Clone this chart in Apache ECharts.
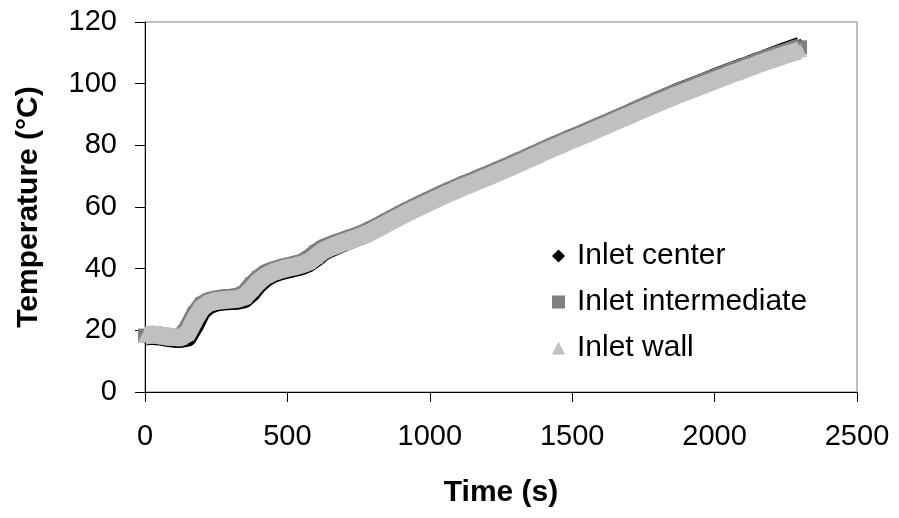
<!DOCTYPE html>
<html>
<head>
<meta charset="utf-8">
<script src="https://cdn.jsdelivr.net/npm/echarts@6/dist/echarts.min.js"></script>
<style>
  html, body { margin: 0; padding: 0; background: #fff; }
  #chart { width: 899px; height: 518px; }
</style>
</head>
<body>
<div id="chart"></div>
<script>
// Sampling times (s)
const times = [
  0, 25, 50, 75, 100, 125, 150, 175, 200, 225, 250, 275, 300, 325, 350, 375,
  400, 425, 450, 475, 500, 525, 550, 575, 600, 625, 650, 675, 700, 725, 750, 775,
  800, 825, 850, 875, 900, 925, 950, 975, 1000, 1025, 1050, 1075, 1100, 1125, 1150, 1175,
  1200, 1225, 1250, 1275, 1300, 1325, 1350, 1375, 1400, 1425, 1450, 1475, 1500, 1525, 1550, 1575,
  1600, 1625, 1650, 1675, 1700, 1725, 1750, 1775, 1800, 1825, 1850, 1875, 1900, 1925, 1950, 1975,
  2000, 2025, 2050, 2075, 2100, 2125, 2150, 2175, 2200, 2225, 2250, 2275, 2300
];

// Temperatures (°C) at the inlet centre
const inletCenter = [
  18.0, 18.2, 18.0, 17.6, 17.3, 17.2, 17.6, 21.5, 26.2, 28.1, 29.0, 29.3, 29.5, 29.6, 30.1, 32.2,
  35.0, 37.0, 38.3, 39.1, 39.7, 40.2, 40.8, 41.8, 43.4, 45.3, 46.5, 47.5, 48.5, 49.4, 50.3, 51.2,
  52.4, 53.6, 54.9, 56.2, 57.4, 58.6, 59.7, 60.8, 61.9, 63.0, 64.1, 65.1, 66.1, 67.1, 68.0, 69.0,
  69.9, 70.9, 71.9, 72.9, 73.9, 74.9, 76.0, 77.0, 78.1, 79.1, 80.2, 81.2, 82.2, 83.1, 84.1, 85.1,
  86.1, 87.1, 88.2, 89.2, 90.3, 91.4, 92.4, 93.4, 94.5, 95.5, 96.5, 97.5, 98.4, 99.3, 100.2, 101.1,
  102.0, 102.9, 103.8, 104.6, 105.5, 106.3, 107.2, 108.0, 108.9, 109.8, 110.7, 111.5, 112.3
];

// Temperatures (°C) at the intermediate radial position
const inletIntermediate = [
  18.3, 18.6, 18.4, 18.0, 17.8, 17.9, 20.8, 25.4, 28.4, 29.6, 30.1, 30.4, 30.6, 30.9, 32.0, 34.8,
  37.0, 38.6, 39.5, 40.2, 40.8, 41.3, 42.0, 43.3, 45.2, 46.7, 47.6, 48.5, 49.3, 50.1, 50.9, 51.9,
  53.0, 54.2, 55.5, 56.7, 57.9, 59.1, 60.2, 61.3, 62.4, 63.5, 64.6, 65.6, 66.6, 67.6, 68.5, 69.5,
  70.4, 71.4, 72.4, 73.4, 74.4, 75.4, 76.5, 77.5, 78.6, 79.6, 80.6, 81.6, 82.6, 83.5, 84.5, 85.5,
  86.5, 87.5, 88.5, 89.5, 90.5, 91.6, 92.6, 93.6, 94.6, 95.5, 96.5, 97.4, 98.3, 99.2, 100.1, 101.0,
  101.9, 102.8, 103.7, 104.5, 105.4, 106.2, 107.1, 107.9, 108.7, 109.5, 110.3, 111.1, 111.8
];

// Temperatures (°C) next to the inlet wall
const inletWall = [
  18.3, 18.6, 18.4, 18.0, 17.8, 17.7, 19.0, 23.5, 27.3, 28.9, 29.5, 29.8, 30.0, 30.2, 30.9, 33.3,
  35.9, 37.7, 38.8, 39.6, 40.2, 40.7, 41.3, 42.2, 43.9, 45.7, 46.8, 47.7, 48.6, 49.4, 50.2, 51.1,
  52.2, 53.4, 54.7, 55.9, 57.1, 58.3, 59.4, 60.5, 61.6, 62.7, 63.8, 64.8, 65.8, 66.8, 67.7, 68.7,
  69.6, 70.6, 71.6, 72.6, 73.6, 74.6, 75.7, 76.7, 77.8, 78.8, 79.8, 80.8, 81.8, 82.7, 83.7, 84.7,
  85.7, 86.7, 87.7, 88.7, 89.7, 90.7, 91.7, 92.7, 93.7, 94.6, 95.6, 96.5, 97.4, 98.3, 99.2, 100.1,
  101.0, 101.9, 102.8, 103.6, 104.5, 105.3, 106.2, 107.0, 107.8, 108.6, 109.4, 110.1, 110.8
];

const seriesNames = ['Inlet center', 'Inlet intermediate', 'Inlet wall'];
const seriesColors = ['#000000', '#808080', '#c0c0c0'];
const seriesSymbols = ['diamond', 'rect', 'triangle'];
const seriesValues = [inletCenter, inletIntermediate, inletWall];

const FONT = "'Liberation Sans', Arial, sans-serif";

const chart = echarts.init(document.getElementById('chart'), null, { renderer: 'canvas' });

// Closely spaced markers joined by a broad stroke of the same colour make each band
const series = seriesNames.map((name, i) => ({
  name: name,
  type: 'line',
  data: times.map((t, k) => [t, seriesValues[i][k]]),
  symbol: seriesSymbols[i],
  symbolSize: 14,
  showSymbol: true,
  showAllSymbol: true,
  itemStyle: { color: seriesColors[i] },
  lineStyle: { color: seriesColors[i], width: 18, join: 'round', cap: 'butt' },
  emphasis: { disabled: true },
  z: 2 + i
}));

chart.setOption({
  animation: false,
  backgroundColor: '#ffffff',
  textStyle: { fontFamily: FONT },
  grid: {
    left: 145, right: 42, top: 22, bottom: 126,
    show: true, borderColor: '#808080', borderWidth: 1, backgroundColor: 'transparent',
    containLabel: false
  },
  legend: {
    orient: 'vertical',
    left: 547, top: 236,
    itemWidth: 13, itemHeight: 13, itemGap: 16,
    textStyle: { fontFamily: FONT, fontSize: 30, color: '#000', padding: [0, 0, 0, 7] },
    data: seriesNames.map((n, i) => ({ name: n, icon: seriesSymbols[i] })),
    selectedMode: false
  },
  xAxis: {
    type: 'value', min: 0, max: 2500, interval: 500,
    name: 'Time (s)', nameLocation: 'middle', nameGap: 86,
    nameTextStyle: { fontFamily: FONT, fontSize: 30, fontWeight: 'bold', color: '#000' },
    axisLine: { show: true, onZero: false, lineStyle: { color: '#000', width: 1 } },
    axisTick: { show: true, inside: false, length: 10, lineStyle: { color: '#000' } },
    axisLabel: { fontFamily: FONT, fontSize: 29, color: '#000', margin: 30,
                 formatter: v => String(v) },
    splitLine: { show: false }
  },
  yAxis: {
    type: 'value', min: 0, max: 120, interval: 20,
    name: 'Temperature (°C)', nameLocation: 'middle', nameGap: 101,
    nameTextStyle: { fontFamily: FONT, fontSize: 30, fontWeight: 'bold', color: '#000' },
    axisLine: { show: true, onZero: false, lineStyle: { color: '#000', width: 1 } },
    axisTick: { show: true, inside: false, length: 10, lineStyle: { color: '#000' } },
    axisLabel: { fontFamily: FONT, fontSize: 29, color: '#000', margin: 28,
                 formatter: v => String(v) },
    splitLine: { show: false }
  },
  series: series
});
</script>
</body>
</html>
